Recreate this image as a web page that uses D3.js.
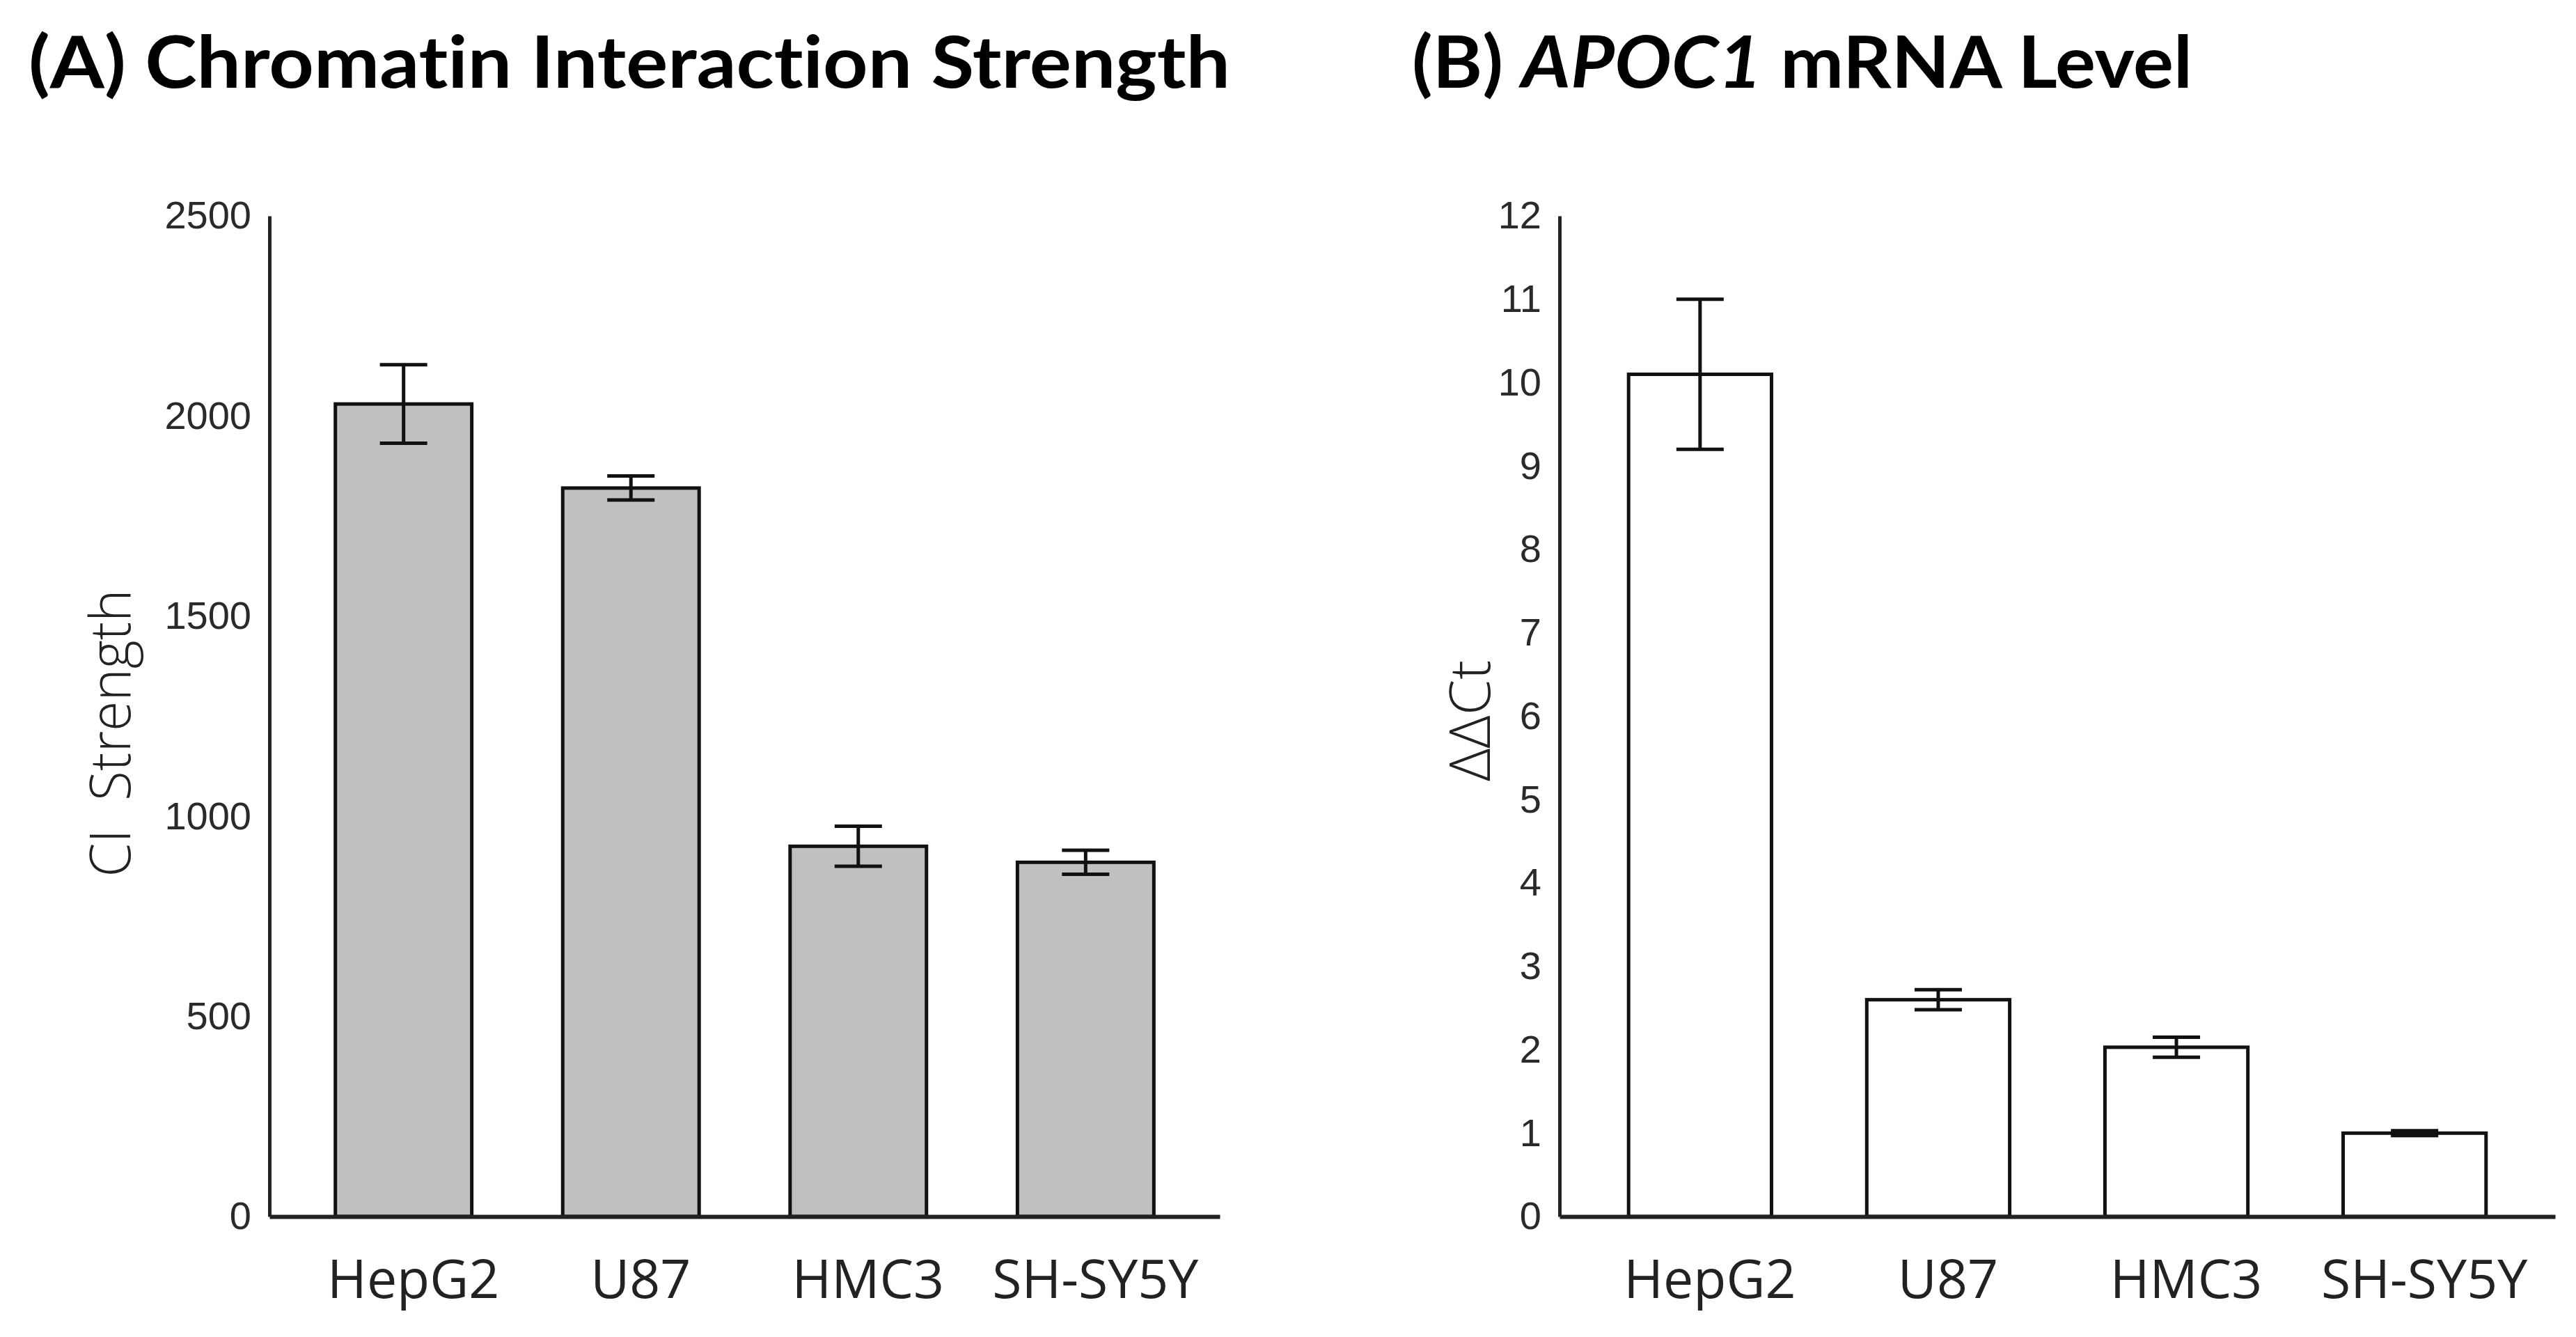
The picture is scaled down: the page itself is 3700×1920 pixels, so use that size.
<!DOCTYPE html>
<html>
<head>
<meta charset="utf-8">
<script src="https://cdn.jsdelivr.net/npm/d3@7"></script>
<style>
    body { margin: 0; background: #fff; }
    text { font-variant-ligatures: none; font-feature-settings: "liga" 0, "dlig" 0; }
</style>
</head>
<body>
<div id="chart"></div>
<script>
// data
var cellLines = ["HepG2", "U87", "HMC3", "SH-SY5Y"];
var ciStrength = [2030, 1820, 925, 885];
var ciError = [98, 30, 50, 30];
var mrnaLevel = [10.1, 2.6, 2.03, 1.0];
var mrnaError = [0.9, 0.12, 0.12, 0.03];
var ciTicks = [0, 500, 1000, 1500, 2000, 2500];
var mrnaTicks = [0, 1, 2, 3, 4, 5, 6, 7, 8, 9, 10, 11, 12];

var width = 3700, height = 1920;
var yTop = 310, yBottom = 1747;

var svg = d3.select("#chart").append("svg")
    .attr("width", width)
    .attr("height", height)
    .style("background", "#fff");

var drawPanel = function (opt) {
    var x = d3.scaleBand()
        .domain(cellLines)
        .range([opt.left, opt.right])
        .paddingInner(0.4)
        .paddingOuter(0.29);

    var y = d3.scaleLinear()
        .domain([0, opt.max])
        .range([yBottom, yTop]);

    var g = svg.append("g");

    // y axis
    var yAxis = g.append("g")
        .attr("transform", "translate(" + opt.left + ",0)")
        .call(d3.axisLeft(y).tickValues(opt.ticks).tickFormat(d3.format("d"))
            .tickSize(0).tickSizeOuter(0).tickPadding(26));
    yAxis.select(".domain").attr("stroke", "#222").attr("stroke-width", 5);
    yAxis.selectAll("text")
        .attr("font-family", "Arial, 'Liberation Sans', sans-serif")
        .attr("font-size", 56)
        .attr("fill", "#2a2a2a");

    // bars
    g.selectAll("rect.bar")
        .data(opt.values)
        .enter().append("rect")
        .attr("class", "bar")
        .attr("x", function (d, i) { return x(cellLines[i]); })
        .attr("y", function (d) { return y(d); })
        .attr("width", x.bandwidth())
        .attr("height", function (d) { return y(0) - y(d); })
        .attr("fill", opt.fill)
        .attr("stroke", "#111")
        .attr("stroke-width", 5);

    // x axis
    var xAxis = g.append("g")
        .attr("transform", "translate(0," + yBottom + ")")
        .call(d3.axisBottom(x).tickSize(0).tickSizeOuter(0).tickPadding(62));
    xAxis.select(".domain").attr("stroke", "#222").attr("stroke-width", 6);
    xAxis.selectAll("text")
        .attr("font-family", "'Open Sans', 'Noto Sans', sans-serif")
        .attr("font-size", 77)
        .attr("dx", 14)
        .attr("fill", "#222");

    // error bars
    var cap = 34;
    var err = g.selectAll("g.err")
        .data(opt.values)
        .enter().append("g")
        .attr("class", "err")
        .attr("stroke", "#111")
        .attr("stroke-width", 5);
    err.append("line")
        .attr("x1", function (d, i) { return x(cellLines[i]) + x.bandwidth() / 2; })
        .attr("x2", function (d, i) { return x(cellLines[i]) + x.bandwidth() / 2; })
        .attr("y1", function (d, i) { return y(d + opt.errors[i]); })
        .attr("y2", function (d, i) { return y(d - opt.errors[i]); });
    [1, -1].forEach(function (s) {
        err.append("line")
            .attr("x1", function (d, i) { return x(cellLines[i]) + x.bandwidth() / 2 - cap; })
            .attr("x2", function (d, i) { return x(cellLines[i]) + x.bandwidth() / 2 + cap; })
            .attr("y1", function (d, i) { return y(d + s * opt.errors[i]); })
            .attr("y2", function (d, i) { return y(d + s * opt.errors[i]); });
    });

    // y axis title
    g.append("text")
        .attr("transform", "translate(" + opt.labelX + "," + opt.labelY + ") rotate(-90)")
        .attr("text-anchor", "middle")
        .attr("font-family", "'Open Sans', 'Noto Sans', sans-serif")
        .attr("font-weight", 300)
        .attr("font-size", 82)
        .attr("fill", "#222")
        .attr("textLength", opt.labelLen)
        .attr("lengthAdjust", "spacingAndGlyphs")
        .style("white-space", "pre")
        .text(opt.label);
};

drawPanel({
    left: 387, right: 1752, max: 2500, ticks: ciTicks,
    values: ciStrength, errors: ciError, fill: "#c0c0c0",
    label: "CI  Strength", labelX: 187, labelY: 1053, labelLen: 413
});

drawPanel({
    left: 2240, right: 3670, max: 12, ticks: mrnaTicks,
    values: mrnaLevel, errors: mrnaError, fill: "#fff",
    label: "ΔΔCt", labelX: 2140, labelY: 1035, labelLen: 174
});

// panel titles
var titleFont = "Lato, 'Open Sans', sans-serif";
svg.append("text")
    .attr("x", 41).attr("y", 126)
    .attr("font-family", titleFont)
    .attr("font-weight", 700)
    .attr("font-size", 104)
    .attr("fill", "#000")
    .attr("textLength", 1726)
    .attr("lengthAdjust", "spacingAndGlyphs")
    .text("(A) Chromatin Interaction Strength");

var tB = svg.append("text")
    .attr("x", 2028).attr("y", 126)
    .attr("font-family", titleFont)
    .attr("font-weight", 700)
    .attr("font-size", 104)
    .attr("fill", "#000")
    .attr("textLength", 1121)
    .attr("lengthAdjust", "spacingAndGlyphs")
    .style("white-space", "pre");
tB.append("tspan").text("(B) ");
tB.append("tspan").attr("font-style", "italic").text("APOC1");
tB.append("tspan").text(" mRNA Level");
</script>
</body>
</html>
